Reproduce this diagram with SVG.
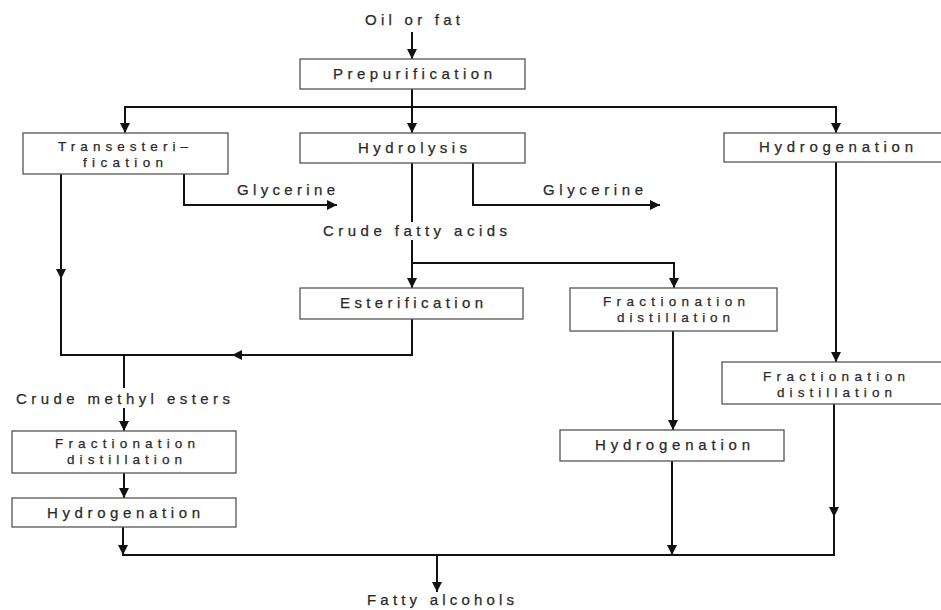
<svg xmlns="http://www.w3.org/2000/svg" width="941" height="610" viewBox="0 0 941 610">
<defs>
<marker id="ah" viewBox="0 0 10 10" refX="10" refY="5" markerWidth="10" markerHeight="10" markerUnits="userSpaceOnUse" orient="auto">
<path d="M0,0 L10,5 L0,10 z" fill="#111"/>
</marker>
<style>
.box{fill:#fff;stroke:#555;stroke-width:1.3}
.t{font-family:"Liberation Sans",Arial,sans-serif;font-size:15px;fill:#2a2a2a;stroke:#2a2a2a;stroke-width:0.25}
.t2{font-size:13.5px}
.c{fill:none;stroke:#111;stroke-width:2}
.a{marker-end:url(#ah)}
</style>
</defs>
<rect width="941" height="610" fill="#fff"/>
<g id="connectors">
<path class="c a" d="M412,32 L412,59"/>
<path class="c a" d="M412,89 L412,133"/>
<path class="c a" d="M412,107 L125,107 L125,133"/>
<path class="c a" d="M412,107 L836,107 L836,133"/>
<path class="c a" d="M61,174 L61,279"/>
<path class="c" d="M61,277 L61,355 L236,355"/>
<path class="c a" d="M412,319 L412,355 L232,355"/>
<path class="c" d="M124,355 L124,388"/>
<path class="c a" d="M124,408 L124,431"/>
<path class="c a" d="M124,473 L124,498"/>
<path class="c a" d="M123,527 L123,555"/>
<path class="c" d="M122,555 L835,555"/>
<path class="c a" d="M184,174 L184,205 L337,205"/>
<path class="c" d="M412,163 L412,222"/>
<path class="c a" d="M473,163 L473,205 L660,205"/>
<path class="c a" d="M412,240 L412,288"/>
<path class="c a" d="M412,263 L674,263 L674,288"/>
<path class="c a" d="M673,331 L673,430"/>
<path class="c a" d="M672,461 L672,555"/>
<path class="c a" d="M836,162 L836,362"/>
<path class="c a" d="M834,404 L834,517"/>
<path class="c" d="M834,515 L834,555"/>
<path class="c a" d="M437,555 L437,592"/>
</g>
<g id="oil"><text class="t" x="365" y="25" textLength="95" lengthAdjust="spacing">Oil or fat</text></g>
<g id="prepurification"><rect class="box" x="300" y="59" width="225" height="30"/><text class="t" x="333" y="79" textLength="159" lengthAdjust="spacing">Prepurification</text></g>
<g id="transesterification"><rect class="box" x="23" y="133" width="205" height="41"/><text class="t t2" x="58" y="151" textLength="130" lengthAdjust="spacing">Transesteri–</text><text class="t t2" x="83" y="167" textLength="80" lengthAdjust="spacing">fication</text></g>
<g id="hydrolysis"><rect class="box" x="300" y="133" width="225" height="30"/><text class="t" x="358" y="153" textLength="109" lengthAdjust="spacing">Hydrolysis</text></g>
<g id="hydrogenation-top"><rect class="box" x="724" y="133" width="222" height="29"/><text class="t" x="759" y="152" textLength="154" lengthAdjust="spacing">Hydrogenation</text></g>
<g id="glycerine-1"><text class="t" x="237" y="195" textLength="98" lengthAdjust="spacing">Glycerine</text></g>
<g id="glycerine-2"><text class="t" x="543" y="195" textLength="100" lengthAdjust="spacing">Glycerine</text></g>
<g id="crude-fatty-acids"><text class="t" x="323" y="236" textLength="184" lengthAdjust="spacing">Crude fatty acids</text></g>
<g id="esterification"><rect class="box" x="300" y="288" width="223" height="31"/><text class="t" x="340" y="308" textLength="143" lengthAdjust="spacing">Esterification</text></g>
<g id="fractionation-mid"><rect class="box" x="570" y="288" width="207" height="43"/><text class="t t2" x="603" y="306" textLength="142" lengthAdjust="spacing">Fractionation</text><text class="t t2" x="617" y="322" textLength="113" lengthAdjust="spacing">distillation</text></g>
<g id="fractionation-right"><rect class="box" x="722" y="362" width="224" height="42"/><text class="t t2" x="763" y="381" textLength="142" lengthAdjust="spacing">Fractionation</text><text class="t t2" x="777" y="397" textLength="115" lengthAdjust="spacing">distillation</text></g>
<g id="crude-methyl-esters"><text class="t" x="16" y="404" textLength="214" lengthAdjust="spacing">Crude methyl esters</text></g>
<g id="fractionation-left"><rect class="box" x="12" y="431" width="224" height="42"/><text class="t t2" x="55" y="448" textLength="140" lengthAdjust="spacing">Fractionation</text><text class="t t2" x="67" y="464" textLength="115" lengthAdjust="spacing">distillation</text></g>
<g id="hydrogenation-left"><rect class="box" x="12" y="498" width="224" height="29"/><text class="t" x="47" y="518" textLength="153" lengthAdjust="spacing">Hydrogenation</text></g>
<g id="hydrogenation-mid"><rect class="box" x="560" y="430" width="224" height="31"/><text class="t" x="595" y="450" textLength="155" lengthAdjust="spacing">Hydrogenation</text></g>
<g id="fatty-alcohols"><text class="t" x="367" y="605" textLength="147" lengthAdjust="spacing">Fatty alcohols</text></g>
</svg>
